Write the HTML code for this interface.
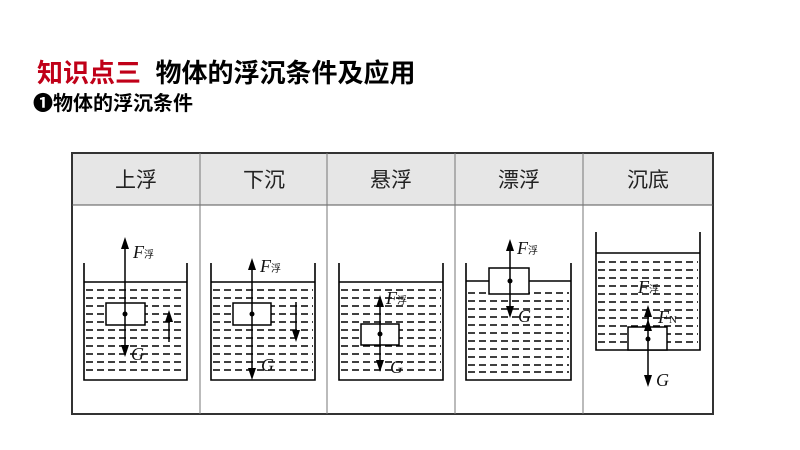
<!DOCTYPE html>
<html><head><meta charset="utf-8"><style>
body{margin:0;width:800px;height:450px;background:#fff;overflow:hidden;position:relative;font-family:"Liberation Sans","Noto Sans CJK SC",sans-serif}
.t1{position:absolute;left:37px;top:53px;font-size:26px;font-weight:bold;color:#000;white-space:nowrap}
.t1 span{color:#c00018}
.t2{position:absolute;left:33px;top:87px;font-size:20px;font-weight:bold;white-space:nowrap}
svg{position:absolute;left:0;top:0}
</style></head><body>
<div class="t1"><span>知识点三</span>&nbsp; 物体的浮沉条件及应用</div>
<div class="t2">❶物体的浮沉条件</div>
<svg width="800" height="450" viewBox="0 0 800 450">
<rect x="72" y="153" width="641" height="52" fill="#e6e6e6"/>
<rect x="72" y="153" width="641" height="261" fill="none" stroke="#333" stroke-width="2"/>
<line x1="72" y1="205" x2="713" y2="205" stroke="#555" stroke-width="1"/>
<g stroke="#777" stroke-width="1">
<line x1="200" y1="153" x2="200" y2="414"/><line x1="327" y1="153" x2="327" y2="414"/>
<line x1="455" y1="153" x2="455" y2="414"/><line x1="583" y1="153" x2="583" y2="414"/>
</g>
<g font-family="Noto Sans CJK SC,sans-serif" font-size="21" fill="#222" text-anchor="middle">
<text x="136" y="187">上浮</text><text x="264" y="187">下沉</text><text x="391" y="187">悬浮</text><text x="519" y="187">漂浮</text><text x="648" y="187">沉底</text>
</g>
<g stroke="#000" stroke-width="1.6" stroke-dasharray="7,4" fill="none">
<path d="M86 290H185M86 298H185M86 306H185M86 314H185M86 322H185M86 330H185M86 338H185M86 346H185M86 354H185M86 362H185M86 370H185"/>
<path d="M213 290H313M213 298H313M213 306H313M213 314H313M213 322H313M213 330H313M213 338H313M213 346H313M213 354H313M213 362H313M213 370H313"/>
<path d="M341 290H441M341 298H441M341 306H441M341 314H441M341 322H441M341 330H441M341 338H441M341 346H441M341 354H441M341 362H441M341 370H441"/>
<path d="M468 293H569M468 301H569M468 309H569M468 317H569M468 325H569M468 333H569M468 341H569M468 349H569M468 357H569M468 365H569M468 372H569"/>
<path d="M598 262H698M598 270H698M598 278H698M598 286H698M598 294H698M598 302H698M598 310H698M598 318H698M598 326H698M598 334H698M598 342H698"/>
</g>
<g stroke="#000" stroke-width="1.6" fill="none">
<path d="M84 263V380H187V263M84 282H187"/>
<path d="M211 263V380H315V263M211 282H315"/>
<path d="M339 263V380H443V263M339 282H443"/>
<path d="M466 263V380H571V263M466 281H489M529 281H571"/>
<path d="M596 232V350H700V232M596 253H700"/>
</g>
<g stroke="#000" stroke-width="1.5" fill="#fff">
<rect x="106" y="303" width="39" height="22"/><rect x="233" y="303" width="38" height="22"/>
<rect x="361" y="324" width="38" height="21"/><rect x="489" y="268" width="40" height="26"/>
<rect x="628" y="327" width="39" height="23"/>
</g>
<g stroke="#000" stroke-width="1.5">
<line x1="125" y1="245" x2="125" y2="350"/>
<line x1="252" y1="266" x2="252" y2="372"/>
<line x1="380" y1="303" x2="380" y2="365"/>
<line x1="510" y1="247" x2="510" y2="311"/>
<line x1="648" y1="313" x2="648" y2="380"/>
<line x1="169" y1="342" x2="169" y2="318"/>
<line x1="296" y1="302" x2="296" y2="334"/>
</g>
<g fill="#000">
<polygon points="121,249 125,237 129,249"/><polygon points="121,345 125,357 129,345"/>
<polygon points="248,270 252,258 256,270"/><polygon points="248,368 252,380 256,368"/>
<polygon points="376,307 380,295 384,307"/><polygon points="376,360 380,372 384,360"/>
<polygon points="506,251 510,239 514,251"/><polygon points="506,306 510,318 514,306"/>
<polygon points="644,317 648,305 652,317"/><polygon points="644,331 648,319 652,331"/><polygon points="644,375 648,387 652,375"/>
<polygon points="165,322 169,310 173,322"/><polygon points="292,330 296,342 300,330"/>
</g>
<circle cx="125" cy="314" r="2.5"/><circle cx="252" cy="314" r="2.5"/><circle cx="380" cy="334" r="2.5"/><circle cx="510" cy="281" r="2.5"/><circle cx="648" cy="339" r="2.5"/>
<g font-family="Liberation Serif,serif" font-style="italic" font-size="18" fill="#111">
<text x="133" y="258">F<tspan font-size="10" font-style="normal" font-family="Noto Sans CJK SC">浮</tspan></text>
<text x="131" y="360">G</text>
<text x="260" y="272">F<tspan font-size="10" font-style="normal" font-family="Noto Sans CJK SC">浮</tspan></text>
<text x="261" y="371">G</text>
<text x="386" y="304">F<tspan font-size="10" font-style="normal" font-family="Noto Sans CJK SC">浮</tspan></text>
<text x="390" y="373">G</text>
<text x="517" y="254">F<tspan font-size="10" font-style="normal" font-family="Noto Sans CJK SC">浮</tspan></text>
<text x="518" y="322">G</text>
<text x="638" y="293">F<tspan font-size="10" font-style="normal" font-family="Noto Sans CJK SC">浮</tspan></text>
<text x="658" y="323">F<tspan font-size="11" font-style="normal">N</tspan></text>
<text x="656" y="386">G</text>
</g>
</svg>
</body></html>
